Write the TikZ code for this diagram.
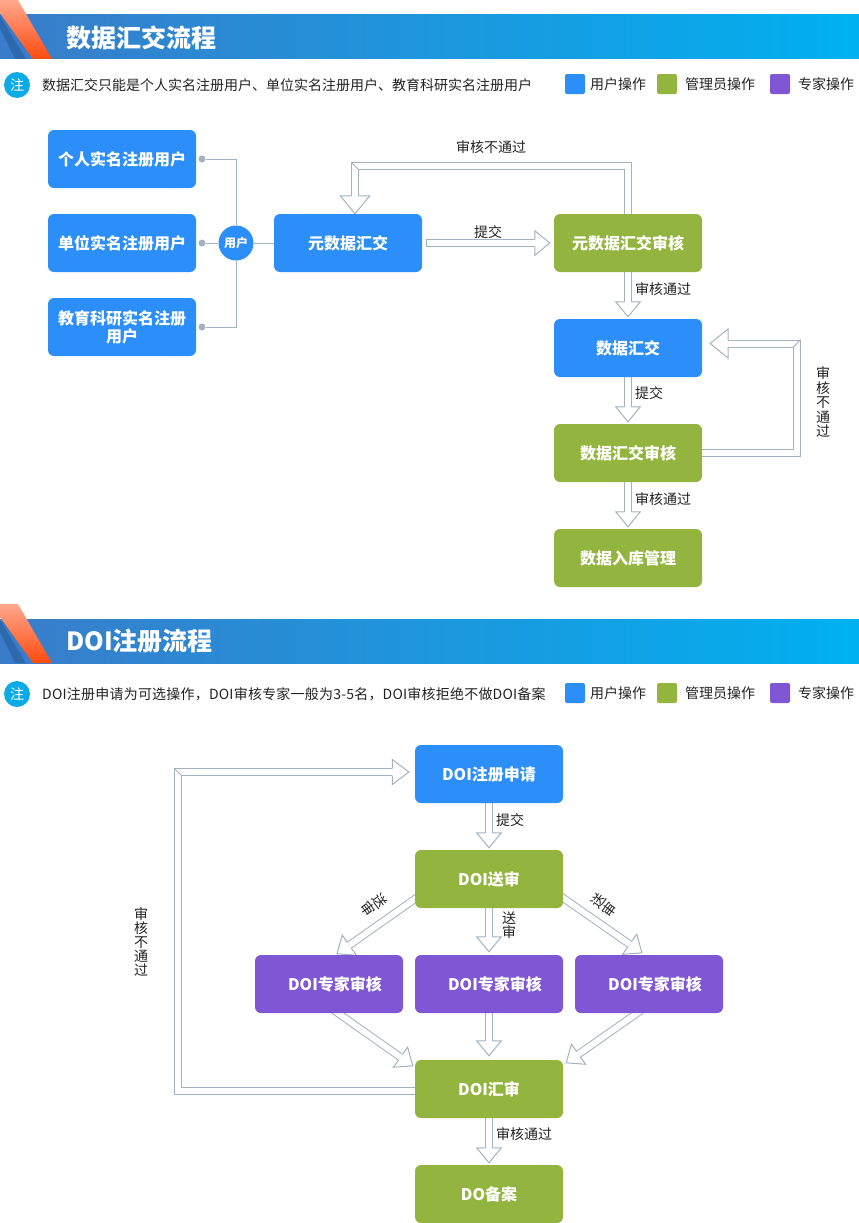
\documentclass[tikz,border=0pt]{standalone}
\usepackage{fontspec}
\setmainfont{Noto Sans CJK SC}
\usetikzlibrary{arrows.meta}
\usetikzlibrary{backgrounds}
\definecolor{userBlue}{HTML}{2C8EF8}
\definecolor{adminGreen}{HTML}{93B53F}
\definecolor{expertPurple}{HTML}{7F56D4}
\definecolor{noteBlue}{HTML}{0CABE8}
\definecolor{lineGray}{HTML}{A3B2C0}
\definecolor{bandLeft}{HTML}{3A7CC9}
\definecolor{bandRight}{HTML}{00B1F0}
\definecolor{bandDark}{HTML}{2D69AC}
\definecolor{stripeTop}{HTML}{FFA88E}
\definecolor{stripeBottom}{HTML}{FF4A0E}
\definecolor{textDark}{HTML}{222222}
% open block arrow head, the shaft runs into it
\pgfdeclarearrow{
	name=Hollow,
	defaults={length=15pt,width=24.6pt},
	parameters={\the\pgfarrowlength,\the\pgfarrowwidth},
	setup code={
		\pgfarrowssettipend{0pt}
		\pgfarrowssetlineend{-\pgfarrowlength}
		\pgfarrowssetbackend{-\pgfarrowlength}
		\pgfarrowssavethe\pgfarrowlength
		\pgfarrowssavethe\pgfarrowwidth
	},
	drawing code={
		\pgfsetlinewidth{1pt}
		\pgfpathmoveto{\pgfqpoint{-\pgfarrowlength}{3.5pt}}
		\pgfpathlineto{\pgfqpoint{-\pgfarrowlength}{0.5\pgfarrowwidth}}
		\pgfpathlineto{\pgfqpoint{0pt}{0pt}}
		\pgfpathlineto{\pgfqpoint{-\pgfarrowlength}{-0.5\pgfarrowwidth}}
		\pgfpathlineto{\pgfqpoint{-\pgfarrowlength}{-3.5pt}}
		\pgfusepathqstroke
	}
}
\tikzstyle{myBox} = [rectangle,rounded corners=6pt,minimum width=148pt,minimum height=58pt,inner sep=0pt,align=center,text=white,font=\fontsize{16}{18}\selectfont\bfseries]
\tikzstyle{userBox} = [myBox,fill=userBlue]
\tikzstyle{adminBox} = [myBox,fill=adminGreen]
\tikzstyle{expertBox} = [myBox,fill=expertPurple]
\tikzstyle{myLabel} = [inner sep=0pt,text=textDark,align=center,font=\fontsize{14}{14.5}\selectfont]
\tikzstyle{myNote} = [inner sep=0pt,anchor=west,text=textDark,font=\fontsize{14}{16}\selectfont]
\tikzstyle{myTitle} = [inner sep=0pt,anchor=west,text=white,font=\fontsize{25}{28}\selectfont\bfseries]
\tikzstyle{swatch} = [rectangle,rounded corners=2pt,minimum size=20pt,inner sep=0pt]
\tikzstyle{hollow} = [draw=lineGray,line width=1pt,double=white,double distance=6pt,-{Hollow}]
\tikzstyle{hollowBig} = [hollow,-{Hollow[length=18pt,width=29.4pt]}]
\tikzstyle{myLine} = [draw=lineGray,line width=1pt]

\begin{document}
\begin{tikzpicture}[x=1pt,y=-1pt]
	\useasboundingbox (0,0) rectangle (859,1223);
	% the two section headers with their note line and legend
	\foreach \yy/\zz/\tt/\nn/\ss in {0/0/数据汇交流程/数据汇交只能是个人实名注册用户、单位实名注册用户、教育科研实名注册用户/p,
		604/609/DOI注册流程/\addfontfeature{LetterSpace=1.5}DOI注册申请为可选操作，DOI审核专家一般为3-5名，DOI审核拒绝不做DOI备案/q}{
		\begin{scope}[yshift=-\yy pt]
			\shade[left color=bandLeft,right color=bandRight] (0,15) rectangle (859,59);
			\fill[bandDark] (0,16)--(26,59)--(15,59)--(0,28)--cycle;
			\shade[top color=stripeTop,bottom color=stripeBottom] (0,0)--(18,0)--(52,59)--(33,59)--(0,13)--cycle;
			\node[myTitle] (\ss title) at (66,37.5) {\tt};
		\end{scope}
		\begin{scope}[yshift=-\zz pt]
			\node[circle,fill=noteBlue,minimum size=26pt,inner sep=0pt,text=white,font=\fontsize{14}{16}\selectfont] (\ss mark) at (17,85) {注};
			\node[myNote] (\ss note) at (42,85) {\nn};
			\node[swatch,fill=userBlue] (\ss s1) at (575,84) {};
			\node[myNote] (\ss t1) at (590,84) {用户操作};
			\node[swatch,fill=adminGreen] (\ss s2) at (667,84) {};
			\node[myNote] (\ss t2) at (685,84) {管理员操作};
			\node[swatch,fill=expertPurple] (\ss s3) at (780,84) {};
			\node[myNote] (\ss t3) at (798,84) {专家操作};
		\end{scope}
	}

	% first flow
	\node[userBox] (a1) at (122,159) {个人实名注册用户};
	\node[userBox] (a2) at (122,243) {单位实名注册用户};
	\node[userBox] (a3) at (122,327) {教育科研实名注册\\用户};
	\node[circle,fill=userBlue,minimum size=35pt,inner sep=0pt,text=white,font=\fontsize{12}{14}\selectfont\bfseries] (u) at (236,243) {用户};
	\node[userBox] (a4) at (348,243) {元数据汇交};
	\node[adminBox] (a5) at (628,243) {元数据汇交审核};
	\node[userBox] (a6) at (628,348) {数据汇交};
	\node[adminBox] (a7) at (628,453) {数据汇交审核};
	\node[adminBox] (a8) at (628,558) {数据入库管理};
	\node[circle,fill=lineGray,minimum size=7pt,inner sep=0pt] (d1) at (202,159) {};
	\node[circle,fill=lineGray,minimum size=7pt,inner sep=0pt] (d2) at (202,243) {};
	\node[circle,fill=lineGray,minimum size=7pt,inner sep=0pt] (d3) at (202,327) {};
	\node[myLabel] (l1) at (491,147) {审核不通过};
	\node[myLabel] (l2) at (488,232) {提交};
	\node[myLabel] (l3) at (663,289) {审核通过};
	\node[myLabel] (l4) at (649,393) {提交};
	\node[myLabel] (l5) at (663,499) {审核通过};
	\node[myLabel] (l6) at (823,402) {审\\核\\不\\通\\过};
	\coordinate (c1) at (351.5,162.5);
	\coordinate (c2) at (358.5,169.5);
	\coordinate (c3) at (800.5,339.5);
	\coordinate (c4) at (793.5,347);

	% second flow
	\node[userBox] (b1) at (489,774) {DOI注册申请};
	\node[adminBox] (b2) at (489,879) {DOI送审};
	\node[expertBox] (b3) at (329,984) {\hspace{12pt}DOI专家审核};
	\node[expertBox] (b4) at (489,984) {\hspace{12pt}DOI专家审核};
	\node[expertBox] (b5) at (649,984) {\hspace{12pt}DOI专家审核};
	\node[adminBox] (b6) at (489,1089) {DOI汇审};
	\node[adminBox] (b7) at (489,1194) {DO备案};
	\node[myLabel] (l7) at (510,820) {提交};
	\node[myLabel] (l8) at (524,1134) {审核通过};
	\node[myLabel,font=\fontsize{14}{14}\selectfont] (l9) at (141,942) {审\\核\\不\\通\\过};
	\node[myLabel,font=\fontsize{14}{14}\selectfont] (l10) at (509,925) {送\\审};
	\node[myLabel,font=\fontsize{14}{12}\selectfont,rotate=-53] (l11) at (374,905) {送\\审};
	\node[myLabel,font=\fontsize{14}{12}\selectfont,rotate=53] (l12) at (604,905) {送\\审};
	\coordinate (c5) at (174.5,768.5);
	\coordinate (c6) at (181.5,775.5);

	\begin{scope}[on background layer]
		\draw[myLine] (d1) -| (u);
		\draw[myLine] (d3) -| (u);
		\draw[myLine] (d2) -- (u);
		\draw[myLine] (u) -- (a4);
		\draw[hollow,shorten <=4pt,shorten >=4pt] (a4.east) -- (a5.west);
		\draw[myLine] ([xshift=4pt,yshift=4pt]a4.east) -- ([xshift=4pt,yshift=-4pt]a4.east);
		\draw[hollowBig] (a5.north) -- ++(0,-48) -| ([xshift=7pt]a4.north);
		\draw[hollow,shorten >=2pt] (a5.south) -- (a6.north);
		\draw[hollow,shorten >=2pt] (a6.south) -- (a7.north);
		\draw[hollow,shorten >=2pt] (a7.south) -- (a8.north);
		\draw[hollowBig] (a7.east) -- ++(95,0) |- ([xshift=8pt,yshift=4.5pt]a6.east);
		\draw[hollow,shorten >=2pt] (b1.south) -- (b2.north);
		\draw[hollow,shorten >=3pt] (b2.south) -- (b4.north);
		\draw[hollow,shorten >=4pt] (b4.south) -- (b6.north);
		\draw[hollow,shorten >=2pt] (b6.south) -- (b7.north);
		\draw[hollow,shorten <=-5pt] ([yshift=-20pt]b2.west) -- ([xshift=8pt,yshift=1pt]b3.north);
		\draw[hollow,shorten <=-5pt] ([yshift=-19pt]b2.east) -- ([xshift=-7pt,yshift=2pt]b5.north);
		\draw[hollow,shorten <=-5pt] ([xshift=9pt]b3.south) -- ([xshift=-2pt,yshift=-6pt]b6.north west);
		\draw[hollow,shorten <=-5pt] ([xshift=-12pt]b5.south) -- ([xshift=3pt,yshift=-3pt]b6.north east);
		\draw[hollow,-{Hollow[length=16.5pt,width=25pt]}] ([yshift=-2pt]b6.west) -- (178,1091) |- ([xshift=-6pt,yshift=2pt]b1.west);
	\end{scope}
	\draw[myLine] (c1) -- (c2);
	\draw[myLine] (c3) -- (c4);
	\draw[myLine] (c5) -- (c6);
\end{tikzpicture}
\end{document}
